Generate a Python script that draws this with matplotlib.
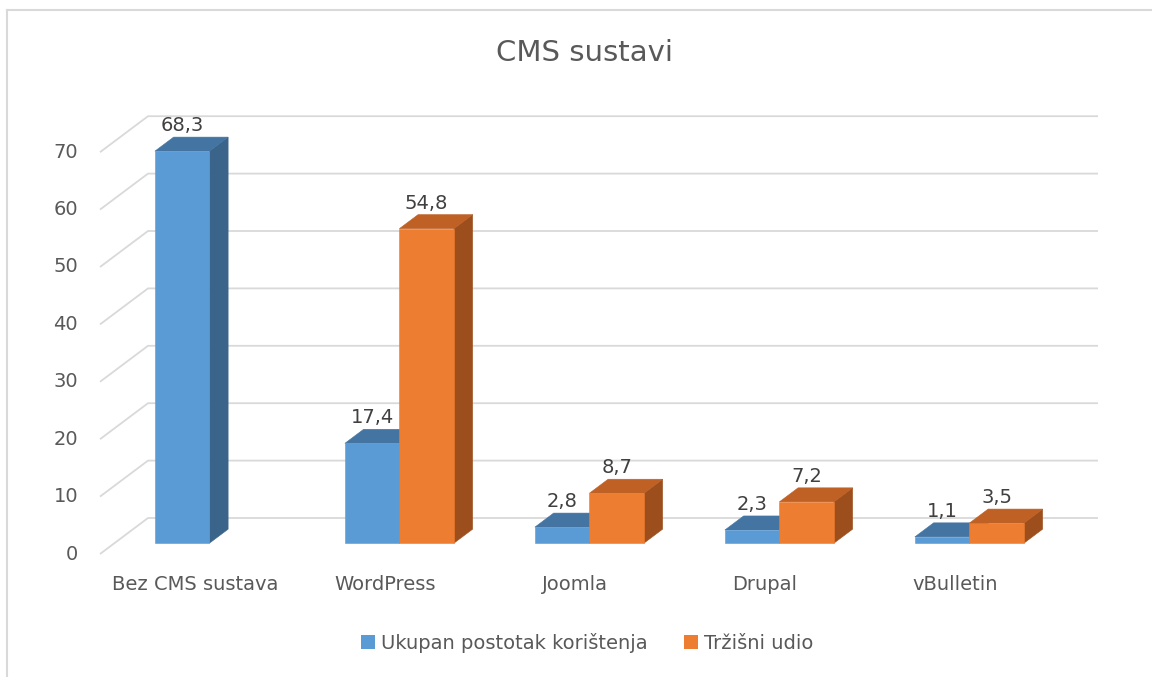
import matplotlib
matplotlib.use("Agg")
import matplotlib.pyplot as plt
from matplotlib.patches import Polygon, Patch
from matplotlib.lines import Line2D

# ---- data ----
categories = ["Bez CMS sustava", "WordPress", "Joomla", "Drupal", "vBulletin"]
series_names = ["Ukupan postotak korištenja", "Tržišni udio"]
ukupan = [68.3, 17.4, 2.8, 2.3, 1.1]
trzisni = [0.0, 54.8, 8.7, 7.2, 3.5]
value_labels_ukupan = ["68,3", "17,4", "2,8", "2,3", "1,1"]
value_labels_trzisni = ["", "54,8", "8,7", "7,2", "3,5"]
y_ticks = [0, 10, 20, 30, 40, 50, 60, 70]

# ---- style ----
front_cols = ["#5B9BD5", "#ED7D31"]
top_cols = ["#4474A1", "#BF6025"]
side_cols = ["#3A6489", "#9C4F1D"]
grid_col = "#D9D9D9"
text_col = "#595959"
label_col = "#404040"

W, H, DPI = 1152, 677, 100
fig = plt.figure(figsize=(W / DPI, H / DPI), dpi=DPI)
fig.patch.set_facecolor("white")

# axes geometry (pixels)
px_left, px_right = 100, 1100
px_top, px_bottom = 100, 554
px_per_cat = 190.0
px_per_val = 5.74
ax = fig.add_axes([px_left / W, (H - px_bottom) / H,
                   (px_right - px_left) / W, (px_bottom - px_top) / H])
ax.set_xlim(-0.5, -0.5 + (px_right - px_left) / px_per_cat)
ax.set_ylim(0, (px_bottom - px_top) / px_per_val)
ax.axis("off")

# depth vector in data units
Dx = 48 / px_per_cat
Dy = 36 / px_per_val
f1, f2 = 0.30, 0.69
bar_w = 54.5 / px_per_cat
n = len(categories)

# gridlines (floor/back wall)
for v in y_ticks:
    ax.plot([-0.5, -0.5 + Dx, n - 0.5 + Dx], [v, v + Dy, v + Dy],
            color=grid_col, lw=1.3, clip_on=False, zorder=1,
            solid_capstyle="butt")
    ax.annotate(str(v), (-0.5, v), xytext=(-22, 0), textcoords="offset pixels",
                ha="right", va="center", fontsize=14, color=text_col)

def draw_bar(x0, v, k):
    x1 = x0 + bar_w
    ox1, oy1 = f1 * Dx, f1 * Dy
    ox2, oy2 = f2 * Dx, f2 * Dy
    front = [(x0 + ox1, oy1), (x1 + ox1, oy1), (x1 + ox1, v + oy1), (x0 + ox1, v + oy1)]
    top = [(x0 + ox1, v + oy1), (x1 + ox1, v + oy1), (x1 + ox2, v + oy2), (x0 + ox2, v + oy2)]
    side = [(x1 + ox1, oy1), (x1 + ox2, oy2), (x1 + ox2, v + oy2), (x1 + ox1, v + oy1)]
    for pts, c in ((side, side_cols[k]), (top, top_cols[k]), (front, front_cols[k])):
        ax.add_patch(Polygon(pts, closed=True, facecolor=c, edgecolor=c,
                             lw=0.4, zorder=3 + k, clip_on=False))

for i in range(n):
    for k, (vals, labs) in enumerate(((ukupan, value_labels_ukupan),
                                       (trzisni, value_labels_trzisni))):
        v = vals[i]
        if v <= 0:
            continue
        x0 = i - bar_w + k * bar_w
        draw_bar(x0, v, k)
        ax.annotate(labs[i], (x0 + bar_w / 2 + f1 * Dx, v + f2 * Dy),
                    xytext=(0, 2), textcoords="offset pixels",
                    ha="center", va="bottom", fontsize=14, color=label_col,
                    zorder=10)
    ax.annotate(categories[i], (i, 0), xytext=(0, -31), textcoords="offset pixels",
                ha="center", va="center", fontsize=14, color=text_col)

# title
fig.text(584 / W, 1 - 53 / H, "CMS sustavi", ha="center", va="center",
         fontsize=21, color=text_col)

# legend
handles = [Patch(facecolor=front_cols[0], edgecolor="none"),
           Patch(facecolor=front_cols[1], edgecolor="none")]
leg = fig.legend(handles, series_names, loc="center",
                 bbox_to_anchor=(587 / W, 1 - 643 / H), ncol=2, frameon=False,
                 fontsize=14, handlelength=0.72, handleheight=0.72,
                 handletextpad=0.3, columnspacing=1.9, borderpad=0)
for t in leg.get_texts():
    t.set_color(text_col)

# chart border (left and top visible)
fig.add_artist(Line2D([7 / W, 7 / W], [0, 1 - 9.5 / H], color=grid_col, lw=1.5,
                      transform=fig.transFigure))
fig.add_artist(Line2D([7 / W, 1], [1 - 9.5 / H, 1 - 9.5 / H], color=grid_col, lw=1.5,
                      transform=fig.transFigure))

fig.savefig("out.png", dpi=DPI, facecolor="white")
